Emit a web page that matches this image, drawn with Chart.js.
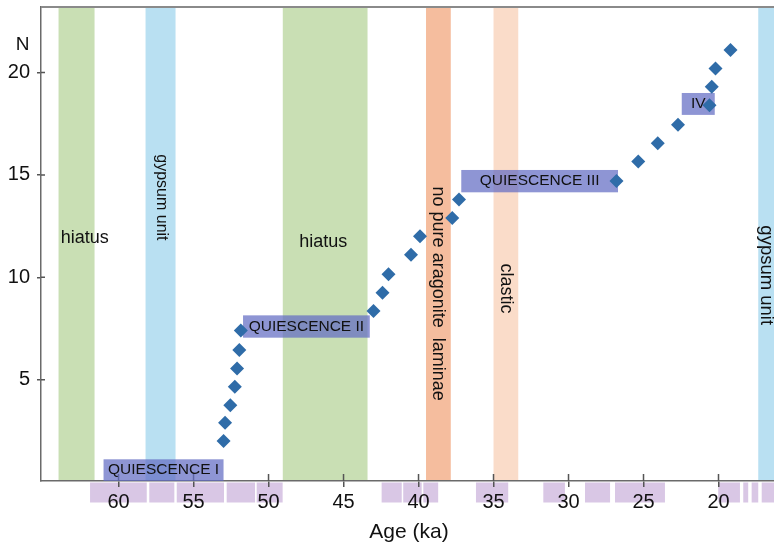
<!DOCTYPE html>
<html>
<head>
<meta charset="utf-8">
<script src="https://cdn.jsdelivr.net/npm/chart.js@4.4.1/dist/chart.umd.min.js"></script>
<style>
  html, body { margin: 0; padding: 0; background: #fff; }
</style>
</head>
<body>
<canvas id="chart" width="774" height="547"></canvas>
<script>
// samples: age (ka) and cumulative count N
const ages   = [53.0, 52.9, 52.55, 52.25, 52.1, 51.95, 51.85, 43.0, 42.4, 42.0, 40.5, 39.9, 37.75, 37.3, 26.8, 25.35, 24.05, 22.7, 20.6, 20.45, 20.2, 19.2];
const counts = [2.0, 2.9, 3.75, 4.65, 5.55, 6.45, 7.4, 8.35, 9.25, 10.15, 11.1, 12.0, 12.9, 13.8, 14.7, 15.65, 16.55, 17.45, 18.4, 19.3, 20.2, 21.1];

const xTicks = [60, 55, 50, 45, 40, 35, 30, 25, 20];
const yTicks = [5, 10, 15, 20];

// vertical bands (ka)
const bandNames = ['hiatus', 'gypsum unit', 'hiatus', 'no pure aragonite  laminae', 'clastic', 'gypsum unit'];
const bandFrom  = [64.0, 58.2, 49.05, 39.5, 35.0, 17.35];
const bandTo    = [61.6, 56.2, 43.4, 37.85, 33.35, 16.0];

// quiescence phases
const phaseNames = ['QUIESCENCE I', 'QUIESCENCE II', 'QUIESCENCE III', 'IV'];
const phaseFrom  = [61.0, 51.7, 37.15, 22.45];
const phaseTo    = [53.0, 43.25, 26.7, 20.25];
const phaseLow   = [0.05, 7.05, 14.15, 17.93];
const phaseHigh  = [1.11, 8.14, 15.24, 19.0];

// sampled intervals under the axis (ka)
const sampleFrom = [61.9, 57.95, 56.12, 52.79, 50.79, 42.46, 41.02, 39.68, 36.17, 31.68, 28.9, 26.9, 20.02, 18.35, 17.79, 17.12];
const sampleTo   = [58.12, 56.28, 52.97, 50.9, 49.06, 41.12, 39.79, 38.69, 34.02, 30.24, 27.23, 23.57, 18.57, 18.02, 17.35, 16.0];

// styling
const FONT = '"Liberation Sans", Arial, Helvetica, sans-serif';
const bandColors = ['#c9dfb4', '#b9e0f2', '#c9dfb4', '#f5bd9e', '#fadcc9', '#b9e0f2'];
// label anchor: [age, N, rotated, font size]
const bandLabelAt = [
  [62.25, 11.94, false, 18],
  [57.15, 13.9, true, 16],
  [46.35, 11.7, false, 18],
  [38.7, 9.2, true, 18],
  [34.15, 9.45, true, 18],
  [16.83, 10.1, true, 18.5]
];

const overlay = {
  id: 'overlay',
  beforeDraw(chart) {
    const { ctx, chartArea: a, scales: { x } } = chart;
    ctx.save();
    bandFrom.forEach((f, i) => {
      const x1 = x.getPixelForValue(f), x2 = x.getPixelForValue(bandTo[i]);
      ctx.fillStyle = bandColors[i];
      ctx.fillRect(Math.min(x1, x2), a.top, Math.abs(x2 - x1), a.bottom - a.top);
    });
    ctx.fillStyle = '#d9c7e5';
    sampleFrom.forEach((f, i) => {
      const x1 = x.getPixelForValue(f), x2 = x.getPixelForValue(sampleTo[i]);
      ctx.fillRect(Math.min(x1, x2), a.bottom + 1.5, Math.abs(x2 - x1), 20);
    });
    ctx.restore();
  },
  beforeDatasetsDraw(chart) {
    const { ctx, chartArea: a, scales: { x, y } } = chart;
    ctx.save();
    // top frame line
    ctx.strokeStyle = '#8a8a8a';
    ctx.lineWidth = 2;
    ctx.beginPath();
    ctx.moveTo(a.left, a.top);
    ctx.lineTo(a.right, a.top);
    ctx.stroke();

    // tick marks reaching into the plot
    ctx.strokeStyle = '#555';
    ctx.lineWidth = 1.5;
    ctx.beginPath();
    xTicks.forEach(v => {
      const px = x.getPixelForValue(v);
      ctx.moveTo(px, a.bottom - 7);
      ctx.lineTo(px, a.bottom);
    });
    yTicks.forEach(v => {
      const py = y.getPixelForValue(v);
      ctx.moveTo(a.left, py);
      ctx.lineTo(a.left + 4, py);
    });
    ctx.stroke();

    // band labels
    ctx.fillStyle = '#111';
    ctx.textAlign = 'center';
    ctx.textBaseline = 'middle';
    bandNames.forEach((name, i) => {
      const [age, n, rot, size] = bandLabelAt[i];
      ctx.save();
      ctx.translate(x.getPixelForValue(age), y.getPixelForValue(n));
      if (rot) ctx.rotate(Math.PI / 2);
      ctx.font = size + 'px ' + FONT;
      ctx.fillText(name, 0, 0);
      ctx.restore();
    });

    // phase boxes
    phaseNames.forEach((name, i) => {
      const x1 = x.getPixelForValue(phaseFrom[i]), x2 = x.getPixelForValue(phaseTo[i]);
      const y1 = y.getPixelForValue(phaseHigh[i]), y2 = y.getPixelForValue(phaseLow[i]);
      ctx.fillStyle = 'rgba(98, 108, 196, 0.72)';
      ctx.fillRect(x1, y1, x2 - x1, y2 - y1);
      ctx.fillStyle = '#111';
      ctx.font = '15.5px ' + FONT;
      ctx.fillText(name, (x1 + x2) / 2, (y1 + y2) / 2);
    });
    ctx.restore();
  },
  afterDraw(chart) {
    const { ctx } = chart;
    ctx.save();
    ctx.fillStyle = '#111';
    ctx.textAlign = 'center';
    ctx.textBaseline = 'alphabetic';
    ctx.font = '19px ' + FONT;
    ctx.fillText('N', 22.5, 50);
    ctx.font = '21px ' + FONT;
    ctx.fillText('Age (ka)', 409, 538);
    ctx.restore();
  }
};

// no label overhang padding: the plot box is placed by hand
const noPad = s => { s.paddingTop = 0; s.paddingBottom = 0; s.paddingLeft = 0; s.paddingRight = 0; };

new Chart(document.getElementById('chart'), {
  type: 'scatter',
  data: {
    datasets: [{
      data: ages.map((a, i) => ({ x: a, y: counts[i] })),
      pointStyle: 'rectRot',
      pointRadius: 7,
      backgroundColor: '#2f6ca8',
      borderColor: '#2f6ca8',
      borderWidth: 0
    }]
  },
  options: {
    responsive: false,
    animation: false,
    devicePixelRatio: 1,
    layout: { autoPadding: false, padding: { top: 7, right: 0, bottom: 0, left: 0 } },
    plugins: { legend: { display: false }, tooltip: { enabled: false } },
    scales: {
      x: {
        type: 'linear',
        reverse: true,
        min: 16.3,
        max: 65.17,
        afterBuildTicks: s => { s.ticks = xTicks.map(v => ({ value: v })); },
        afterFit: s => { s.height = 66; noPad(s); },
        grid: { drawOnChartArea: false, tickLength: 6, color: '#555', lineWidth: 1.5 },
        border: { color: '#6a6a6a', width: 1.5 },
        ticks: { color: '#111', font: { family: FONT, size: 20 }, padding: 3, maxRotation: 0, autoSkip: false }
      },
      y: {
        min: 0.05,
        max: 23.2,
        afterBuildTicks: s => { s.ticks = yTicks.map(v => ({ value: v })); },
        afterFit: s => { s.width = 41; noPad(s); },
        grid: { drawOnChartArea: false, tickLength: 4, color: '#555', lineWidth: 1.5 },
        border: { color: '#6a6a6a', width: 1.5 },
        ticks: { color: '#111', font: { family: FONT, size: 20 }, padding: 7 }
      }
    }
  },
  plugins: [overlay]
});
</script>
</body>
</html>
